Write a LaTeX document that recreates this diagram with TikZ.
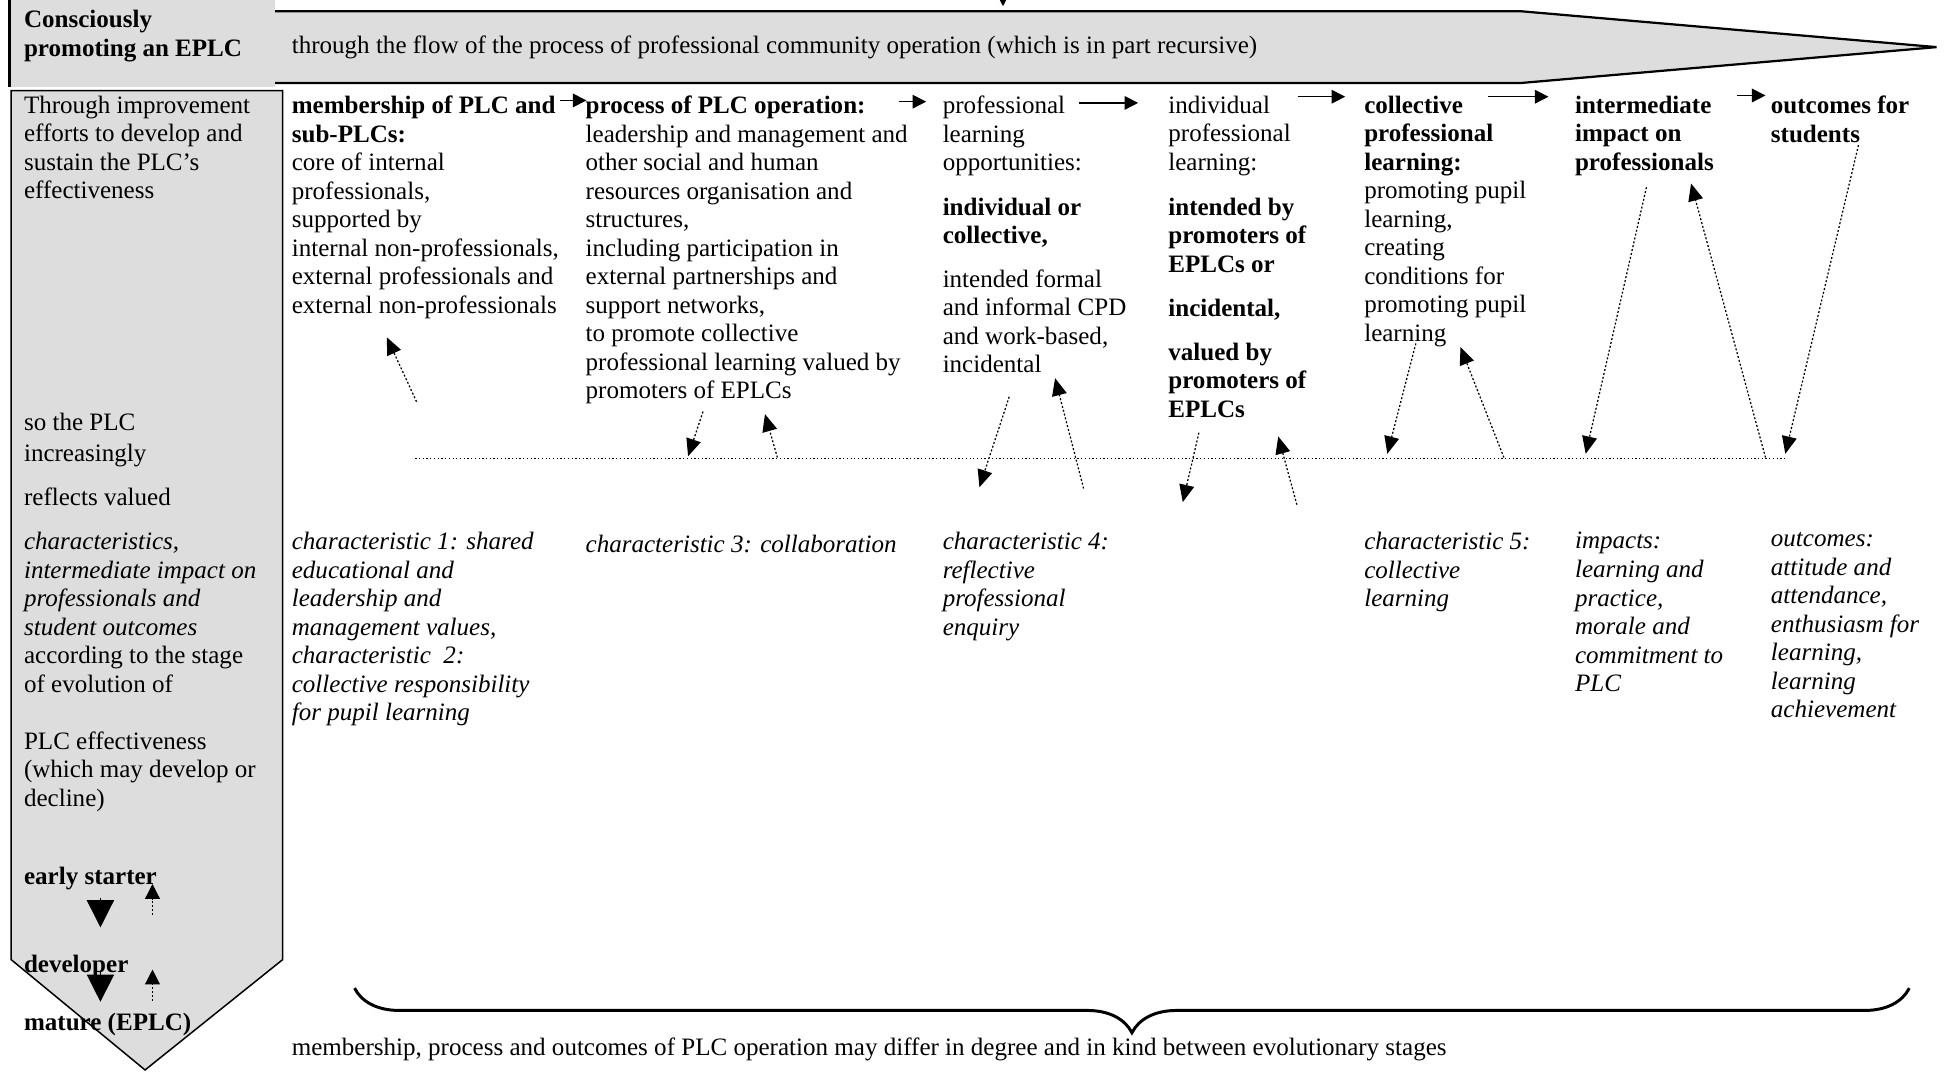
\documentclass[tikz,border=0pt]{standalone}
\usepackage{fontspec}
\setmainfont{Liberation Serif}
\usetikzlibrary{arrows.meta,decorations.pathreplacing}
\definecolor{panelgray}{RGB}{221,221,221}
\begin{document}
\begin{tikzpicture}[x=0.5pt, y=-0.5pt,
	every node/.style={inner sep=0pt, font=\fontsize{10.1}{11.5}\selectfont},
	txt/.style={anchor=north west, align=left, execute at begin node=\strut},
	chartxt/.style={txt, font=\fontsize{10.1}{11.5}\selectfont\itshape},
	flow/.style={-{Triangle[length=5.5pt,width=5.5pt]}, line width=.6pt},
	dotarrow/.style={-{Triangle[length=7pt,width=6pt]}, dash pattern=on .8pt off .8pt, line width=.5pt},
	bigdown/.style={-{Triangle[length=11pt,width=11pt]}, line width=.5pt},
	smallup/.style={-{Triangle[length=6pt,width=6pt]}, dash pattern=on .8pt off .8pt, line width=.5pt}]
	\useasboundingbox (0,0) rectangle (1568,864);
	\fill[panelgray] (8,0) rectangle (222,70);
	\draw[line width=1.2pt] (8,0) -- (8,70);
	\fill[panelgray] (222,9) -- (1226,9) -- (1562,38) -- (1226,67) -- (222,67) -- cycle;
	\draw[line width=.9pt] (222,9) -- (1226,9) -- (1562,38) -- (1226,67) -- (222,67);
	\filldraw[fill=panelgray, line width=.6pt] (9,73) -- (228,73) -- (228,774) -- (117,863) -- (9,774) -- cycle;
	\coordinate (topS) at (809,-1);
	\coordinate (topE) at (809,5);
	\draw[-{Triangle[length=2.5pt,width=2.5pt]}, line width=.4pt] (topS) -- (topE);
	\node[txt, font=\fontsize{10.1}{11.5}\selectfont\bfseries] (head) at (19,8) {Consciously\\promoting an EPLC};
	\node[anchor=west] (flowtext) at (235,38.5) {through the flow of the process of professional community operation (which is in part recursive)};
	\node[txt] (lcA) at (19,77) {Through improvement\\efforts to develop and\\sustain the PLC’s\\effectiveness};
	\node[txt] (lcB) at (19,333) {so the PLC\\[1pt]increasingly\\[6pt]reflects valued\\[6.5pt]\textit{characteristics,}\\\textit{intermediate impact on}\\\textit{professionals and}\\\textit{student outcomes}\\according to the stage\\of evolution of\\[11.5pt]PLC effectiveness\\(which may develop or\\decline)};
	\node[txt, font=\fontsize{10.1}{11.5}\selectfont\bfseries] (early) at (19,697) {early starter};
	\node[txt, font=\fontsize{10.1}{11.5}\selectfont\bfseries] (devel) at (19,768) {developer};
	\node[txt, font=\fontsize{10.1}{11.5}\selectfont\bfseries] (mature) at (19,815) {mature (EPLC)};
	\node[txt] (member) at (235,77) {\textbf{membership of PLC and}\\\textbf{sub-PLCs:}\\core of internal\\professionals,\\supported by\\internal non-professionals,\\external professionals and\\external non-professionals};
	\node[txt] (process) at (472,77) {\textbf{process of PLC operation:}\\leadership and management and\\other social and human\\resources organisation and\\structures,\\including participation in\\external partnerships and\\support networks,\\to promote collective\\professional learning valued by\\promoters of EPLCs};
	\node[txt] (opps) at (760,77) {professional\\learning\\opportunities:\\[6.5pt]\textbf{individual or}\\\textbf{collective,}\\[6pt]intended formal\\and informal CPD\\and work-based,\\incidental};
	\node[txt] (indiv) at (942,77) {individual\\professional\\learning:\\[6.5pt]\textbf{intended by}\\\textbf{promoters of}\\\textbf{EPLCs or}\\[6.5pt]\textbf{incidental,}\\[6pt]\textbf{valued by}\\\textbf{promoters of}\\\textbf{EPLCs}};
	\node[txt] (collect) at (1100,77) {\textbf{collective}\\\textbf{professional}\\\textbf{learning:}\\promoting pupil\\learning,\\creating\\conditions for\\promoting pupil\\learning};
	\node[txt, font=\fontsize{10.1}{11.5}\selectfont\bfseries] (impact) at (1270,77) {intermediate\\impact on\\professionals};
	\node[txt, font=\fontsize{10.1}{11.5}\selectfont\bfseries] (outcome) at (1428,77) {outcomes for\\students};
	\node[chartxt] (charA) at (235,429) {characteristic 1: shared\\educational and\\leadership and\\management values,\\characteristic~ 2:\\collective responsibility\\for pupil learning};
	\node[chartxt] (charB) at (472,429) {characteristic 3: collaboration};
	\node[chartxt] (charC) at (760,429) {characteristic 4:\\reflective\\professional\\enquiry};
	\node[chartxt] (charE) at (1100,429) {characteristic 5:\\collective\\learning};
	\node[chartxt] (impacts) at (1270,429) {impacts:\\learning and\\practice,\\morale and\\commitment to\\PLC};
	\node[chartxt] (outcomes) at (1428,429) {outcomes:\\attitude and\\attendance,\\enthusiasm for\\learning,\\learning\\achievement};
	\node[anchor=west] (note) at (235,846) {membership, process and outcomes of PLC operation may differ in degree and in kind between evolutionary stages};
	\foreach \i/\xa/\ya/\xb/\yb in {1/452/81/473/81, 2/725/82/747/82, 3/870/83/918/83, 4/1047/78/1085/78, 5/1200/78/1249/78, 6/1401/77/1424/77}{
		\coordinate (fs\i) at (\xa,\ya);
		\coordinate (fe\i) at (\xb,\yb);
		\draw[flow] (fs\i) -- (fe\i);
	}
	\coordinate (lineL) at (335,370);
	\coordinate (lineR) at (1441,370);
	\draw[dash pattern=on .5pt off 1pt, line width=.5pt] (lineL) -- (lineR);
	\foreach \i/\xa/\ya/\xb/\yb in {1/336/324/312/272, 2/567/332/555/368, 3/627/369/617/334, 4/814/320/790/393, 5/874/394/851/305, 6/967/349/954/405, 7/1046/407/1031/352, 8/1142/277/1119/366, 9/1213/369/1178/280, 10/1328/151/1279/366, 11/1424/369/1364/148, 12/1499/117/1440/366}{
		\coordinate (ds\i) at (\xa,\ya);
		\coordinate (de\i) at (\xb,\yb);
		\draw[dotarrow] (ds\i) -- (de\i);
	}
	\coordinate (downS1) at (81,724);
	\coordinate (downE1) at (81,748);
	\coordinate (downS2) at (81,784);
	\coordinate (downE2) at (81,808);
	\coordinate (upS1) at (123,738);
	\coordinate (upE1) at (123,713);
	\coordinate (upS2) at (123,807);
	\coordinate (upE2) at (123,782);
	\draw[bigdown] (downS1) -- (downE1);
	\draw[bigdown] (downS2) -- (downE2);
	\draw[smallup] (upS1) -- (upE1);
	\draw[smallup] (upS2) -- (upE2);
	\coordinate (braceR) at (1540,797);
	\coordinate (braceL) at (286,797);
	\draw[decorate, decoration={brace, amplitude=18pt}, line width=1.2pt] (braceR) -- (braceL);
\end{tikzpicture}
\end{document}
